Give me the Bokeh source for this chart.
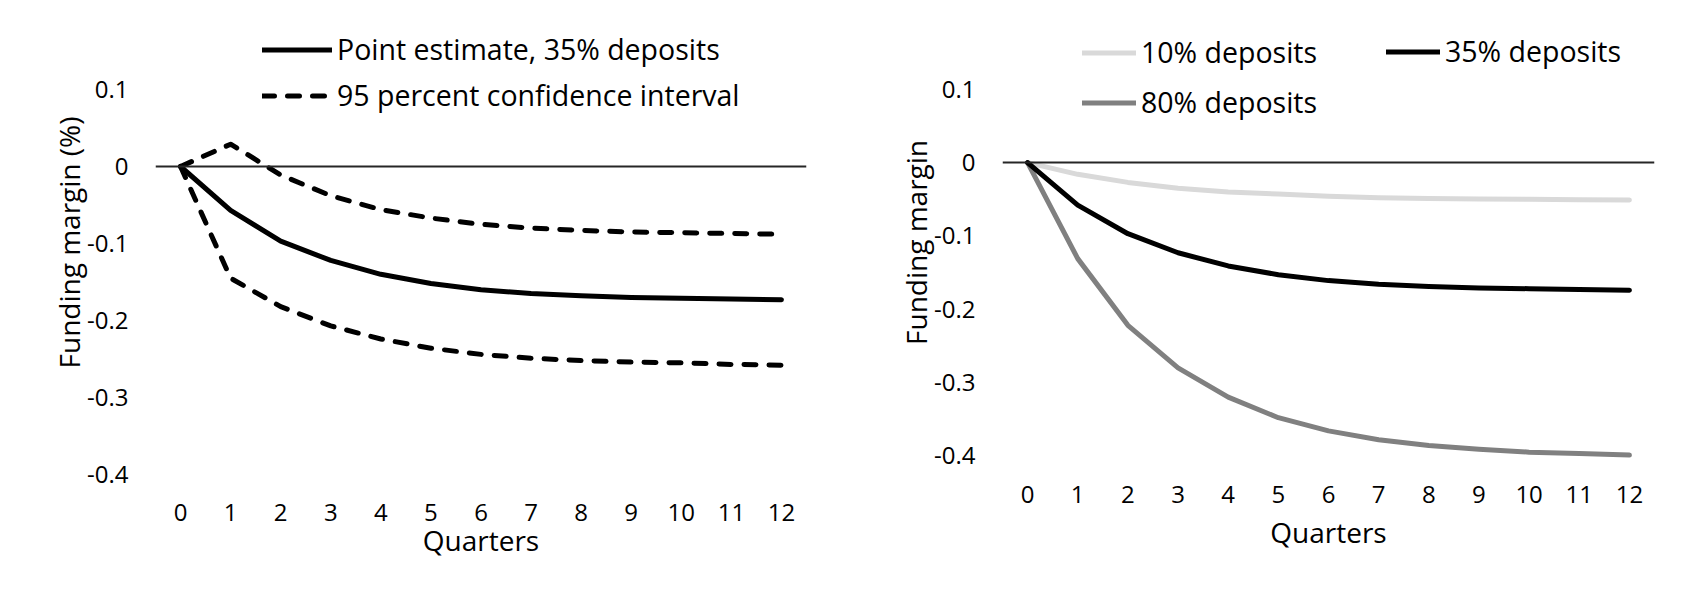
from bokeh.plotting import figure
from bokeh.models import Span, Legend, LegendItem, FixedTicker, CustomJSTickFormatter, Range1d
from bokeh.layouts import row
from bokeh.embed import file_html
from bokeh.resources import INLINE

# ---------------- data ----------------
quarters = list(range(13))
x_ticks = list(range(13))
y_ticks = [-0.4, -0.3, -0.2, -0.1, 0.0, 0.1]

# left panel
point_est = [0, -0.057, -0.097, -0.122, -0.140, -0.152, -0.160, -0.165, -0.168, -0.170, -0.171, -0.172, -0.173]
ci_upper = [0, 0.029, -0.011, -0.038, -0.056, -0.067, -0.075, -0.080, -0.083, -0.085, -0.086, -0.087, -0.088]
ci_lower = [0, -0.145, -0.182, -0.207, -0.224, -0.236, -0.244, -0.249, -0.252, -0.254, -0.255, -0.257, -0.258]

# right panel
dep10 = [0, -0.016, -0.027, -0.035, -0.040, -0.043, -0.046, -0.048, -0.049, -0.0497, -0.050, -0.0507, -0.051]
dep35 = [0, -0.058, -0.097, -0.123, -0.141, -0.153, -0.161, -0.166, -0.169, -0.171, -0.172, -0.173, -0.174]
dep80 = [0, -0.131, -0.222, -0.280, -0.320, -0.348, -0.366, -0.378, -0.386, -0.391, -0.395, -0.397, -0.399]

left_labels = ["Point estimate, 35% deposits", "95 percent confidence interval"]
right_labels = ["10% deposits", "35% deposits", "80% deposits"]
x_title = "Quarters"
y_title_left = "Funding margin (%)"
y_title_right = "Funding margin"

FONT = "Open Sans"
TICK_SIZE = "24px"
LABEL_SIZE = "28px"
LEGEND_SIZE = "28.5px"

yfmt_code = """
const v = Math.round(tick * 10) / 10;
return v === 0 ? "0" : String(v);
"""


def make_fig(bl, br, y_start, y_end, x_lab_std, x_std, y_std):
    # both panels share the same top/bottom borders; the y ranges place the ticks
    p = figure(width=840, height=584, output_backend="svg", toolbar_location=None,
               x_range=Range1d(-0.5, 12.5), y_range=Range1d(y_start, y_end),
               min_border_left=bl, min_border_right=br, min_border_top=10, min_border_bottom=110)
    p.outline_line_color = None
    p.grid.visible = False
    p.background_fill_color = "white"
    p.border_fill_color = "white"
    for ax in (p.xaxis[0], p.yaxis[0]):
        ax.axis_line_color = None
        ax.major_tick_line_color = None
        ax.minor_tick_line_color = None
        ax.major_tick_out = 0
        ax.major_tick_in = 0
        ax.minor_tick_out = 0
        ax.major_label_text_font = FONT
        ax.major_label_text_font_size = TICK_SIZE
        ax.major_label_text_color = "black"
        ax.major_label_text_line_height = 1.0
        ax.axis_label_text_font = FONT
        ax.axis_label_text_font_size = LABEL_SIZE
        ax.axis_label_text_font_style = "normal"
        ax.axis_label_text_color = "black"
        ax.axis_label_text_line_height = 1.0
    p.xaxis[0].ticker = FixedTicker(ticks=x_ticks)
    p.yaxis[0].ticker = FixedTicker(ticks=y_ticks)
    p.yaxis[0].formatter = CustomJSTickFormatter(code=yfmt_code)
    p.xaxis[0].major_label_standoff = x_lab_std
    p.yaxis[0].major_label_standoff = 27
    p.xaxis[0].axis_label_standoff = x_std
    p.yaxis[0].axis_label_standoff = y_std
    p.add_layout(Span(location=0, dimension="width", line_color="#262626", line_width=2))
    return p


def style_legend(lg, spacing, glyph_width):
    lg.label_text_font = FONT
    lg.label_text_font_size = LEGEND_SIZE
    lg.label_text_color = "black"
    lg.border_line_alpha = 0
    lg.background_fill_alpha = 0
    lg.padding = 0
    lg.margin = 0
    lg.spacing = spacing
    lg.label_height = 31
    lg.glyph_height = 31
    lg.glyph_width = glyph_width
    lg.label_standoff = 5


# ---------------- left panel ----------------
p1 = make_fig(155, 34, -0.4, 0.2026, 29, -3, -4)
p1.xaxis[0].axis_label = x_title
p1.yaxis[0].axis_label = y_title_left

dash_kw = dict(line_color="black", line_width=5, line_dash="12 13", line_cap="round", line_join="round")
r_up = p1.line(quarters, ci_upper, **dash_kw)
r_lo = p1.line(quarters, ci_lower, **dash_kw)
r_pt = p1.line(quarters, point_est, line_color="black", line_width=5, line_cap="round", line_join="round")

lg1 = Legend(items=[LegendItem(label=left_labels[0], renderers=[r_pt]),
                    LegendItem(label=left_labels[1], renderers=[r_up])],
             location=(107, 360))
style_legend(lg1, 8, 70)
p1.add_layout(lg1)

# ---------------- right panel ----------------
p2 = make_fig(162, 26, -0.4255, 0.2075, 11, 7, -4)
p2.xaxis[0].axis_label = x_title
p2.yaxis[0].axis_label = y_title_right

r10 = p2.line(quarters, dep10, line_color="#d9d9d9", line_width=5, line_cap="round", line_join="round")
r80 = p2.line(quarters, dep80, line_color="#808080", line_width=5, line_cap="round", line_join="round")
r35 = p2.line(quarters, dep35, line_color="black", line_width=5, line_cap="round", line_join="round")

lg2a = Legend(items=[LegendItem(label=right_labels[0], renderers=[r10]),
                     LegendItem(label=right_labels[2], renderers=[r80])],
              location=(80, 353))
style_legend(lg2a, 12, 54)
p2.add_layout(lg2a)

lg2b = Legend(items=[LegendItem(label=right_labels[1], renderers=[r35])],
              location=(384, 404))
style_legend(lg2b, 12, 54)
p2.add_layout(lg2b)

layout = row(p1, p2)
open("out.html", "w").write(file_html(layout, INLINE))
